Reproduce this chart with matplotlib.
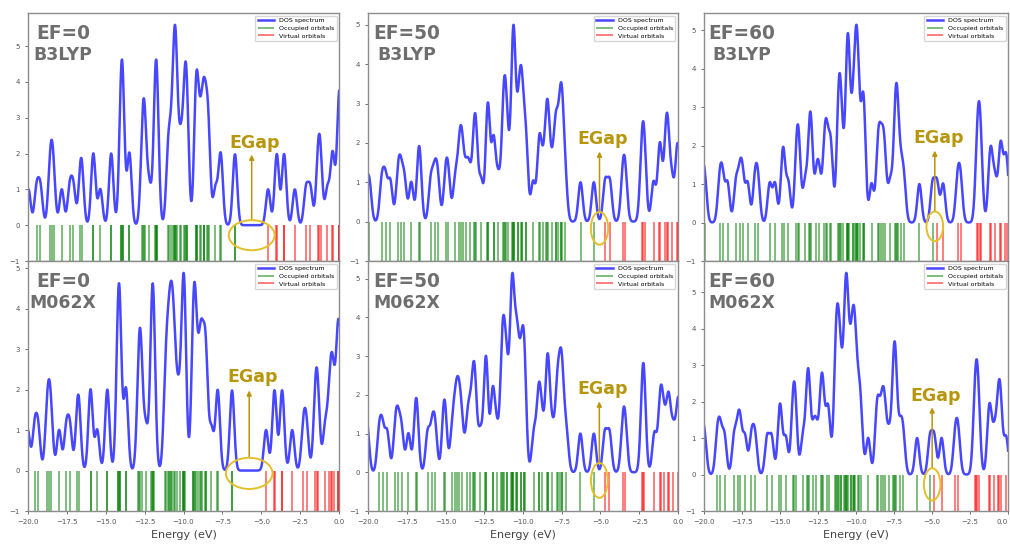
"""
DOS spectra of the EF=0/50/60 systems, B3LYP vs M062X, with EGap markers
"""
import numpy as np
import matplotlib
matplotlib.use("Agg")
import matplotlib.pyplot as plt
from matplotlib.patches import Ellipse
from matplotlib.ticker import MultipleLocator

# orbital energies (eV)
occ_ef0_b3lyp = [-19.97, -19.45, -19.2, -18.6, -18.48, -18.36, -17.83, -17.32, -17.08,
                 -16.63, -16.53, -15.8, -15.8, -15.35, -14.65, -14.65,
                 -14.04, -14.0, -13.96, -13.92, -13.88, -13.48, -13.48,
                 -12.66, -12.59, -12.53, -12.46, -12.2,
                 -11.84, -11.8, -11.76, -11.72, -11.68,
                 -11.0, -10.95, -10.8, -10.65, -10.6, -10.56, -10.52, -10.48, -10.44,
                 -10.2, -10.16, -9.95, -9.9, -9.85, -9.8, -9.75,
                 -9.22, -9.19, -9.16, -9.13, -8.93, -8.9, -8.71, -8.69, -8.67,
                 -8.48, -8.43, -8.38, -7.95, -7.63, -7.59, -6.71, -6.67]
virt_ef0_b3lyp = [-4.56, -4.02, -3.98, -3.55, -3.51, -2.84, -2.12, -1.84,
                  -1.37, -1.27, -1.17, -0.75, -0.43, -0.39, 0.0, 0.0, 0.0, 0.12]

occ_ef0_m062x = [-20.02, -19.58, -19.35, -18.785, -18.65, -18.515, -18.0, -17.54, -17.3,
                 -16.82, -16.72, -15.98, -15.98, -15.55, -14.9, -14.9,
                 -14.23, -14.19, -14.15, -14.11, -14.07, -13.7, -13.7,
                 -12.9, -12.83, -12.77, -12.7, -12.42,
                 -12.06, -12.02, -11.98, -11.94, -11.9,
                 -11.18, -11.12, -11.0, -10.92, -10.85, -10.78, -10.71, -10.64, -10.57,
                 -10.4, -10.25, -10.05, -10.015, -9.98, -9.945, -9.91,
                 -9.41, -9.36, -9.31, -9.26, -9.21, -9.05, -8.92, -8.86, -8.8,
                 -8.63, -8.58, -8.53, -8.2, -7.82, -7.78, -6.9, -6.86]
virt_ef0_m062x = [-4.69, -4.17, -4.13, -3.68, -3.64, -3.01, -2.29, -2.09,
                  -1.54, -1.44, -1.34, -0.9, -0.65, -0.5, -0.45, -0.3,
                  -0.08, -0.05, -0.02, 0.1]

occ_ef50_b3lyp = [-20.2, -19.92, -19.11, -18.87, -18.56, -18.07, -17.89, -17.65, -17.21,
                  -16.74, -16.66, -15.95, -15.7, -15.5, -15.0, -14.82, -14.38,
                  -14.13, -14.01, -13.89, -13.65, -13.45, -13.17, -13.09, -13.01,
                  -12.7, -12.3, -12.27, -12.24, -11.9, -11.9, -11.6,
                  -11.3, -11.235, -11.165, -11.095, -10.95,
                  -10.68, -10.65, -10.62, -10.59, -10.56, -10.3, -10.3,
                  -10.12, -10.09, -10.06, -9.83, -9.8, -9.35,
                  -8.97, -8.93, -8.7, -8.49, -8.43, -8.37, -8.15,
                  -7.9, -7.9, -7.72, -7.57, -7.52, -7.47, -7.28, -6.29, -5.43]
virt_ef50_b3lyp = [-4.7, -4.4, -3.56, -3.4, -2.35, -2.25, -2.15, -1.58,
                   -1.2, -1.14, -0.82, -0.7, -0.66, -0.4, -0.05, 0.0]

occ_ef50_m062x = [-20.25, -20.05, -19.28, -19.06, -18.76, -18.24, -18.06, -17.83, -17.39,
                  -16.93, -16.85, -16.15, -15.86, -15.66, -15.12, -15.02, -14.57,
                  -14.37, -14.24, -14.11, -13.95, -13.6, -13.43, -13.23, -13.15, -13.07,
                  -12.75, -12.42, -12.39, -12.36, -11.96, -11.96, -11.7,
                  -11.39, -11.33, -11.27, -11.21, -11.04, -11.04,
                  -10.77, -10.735, -10.7, -10.665, -10.63, -10.42, -10.4, -10.38,
                  -10.15, -10.15, -9.96, -9.93, -9.9, -9.3, -9.0, -8.96, -8.75,
                  -8.45, -8.41, -8.37, -8.11, -7.82, -7.76, -7.6,
                  -7.5, -7.46, -7.2, -6.3, -5.43]
virt_ef50_m062x = [-4.72, -4.42, -3.56, -3.4, -2.3, -2.24, -2.18, -1.52,
                   -1.17, -1.09, -0.9, -0.66, -0.56, -0.3, -0.02, 0.08]

occ_ef60_b3lyp = [-20.15, -19.95, -18.97, -18.77, -18.45, -17.9, -17.64, -17.46, -17.13,
                  -16.65, -16.45, -15.68, -15.33, -14.84, -14.76, -14.45,
                  -13.93, -13.83, -13.73, -13.35, -13.06, -13.0, -12.94,
                  -12.6, -12.42, -12.1, -12.0, -11.9, -11.7, -11.62,
                  -11.19, -11.13, -11.07, -11.01, -10.87,
                  -10.61, -10.575, -10.54, -10.505, -10.47, -10.22, -10.22,
                  -10.05, -10.005, -9.96, -9.915, -9.87, -9.72, -9.52, -9.5, -9.48,
                  -8.98, -8.58, -8.5, -8.35, -8.2, -8.1, -7.75,
                  -7.45, -7.38, -7.32, -7.25, -7.05, -6.85, -5.83, -4.96]
virt_ef60_b3lyp = [-4.67, -4.27, -3.32, -3.12, -2.045, -1.955, -1.865, -1.775,
                   -1.2, -1.1, -0.85, -0.52, -0.46, -0.2, -0.05]

occ_ef60_m062x = [-20.2, -19.97, -19.12, -18.92, -18.65, -18.02, -17.76, -17.6, -17.3,
                  -16.88, -16.64, -15.85, -15.55, -15.04, -14.96, -14.62,
                  -14.17, -14.07, -13.97, -13.5, -13.21, -13.15, -13.09,
                  -12.8, -12.6, -12.32, -12.24, -12.16, -11.9, -11.78,
                  -11.38, -11.32, -11.26, -11.2, -11.14, -11.0, -11.0,
                  -10.76, -10.72, -10.67, -10.63, -10.58, -10.54, -10.35, -10.35,
                  -10.2, -10.15, -10.1, -10.05, -9.9, -9.78, -9.66, -9.2,
                  -8.65, -8.55, -8.35, -8.2, -8.1, -7.83,
                  -7.55, -7.49, -7.43, -7.37, -7.1, -6.9, -5.98, -5.13]
virt_ef60_m062x = [-4.85, -4.37, -3.47, -3.27, -2.2, -2.11, -2.02, -1.93,
                   -1.27, -1.17, -0.9, -0.66, -0.56, -0.46, -0.12]

ef_labels = ["EF=0", "EF=50", "EF=60"]
methods = ["B3LYP", "M062X"]
occupied = [[occ_ef0_b3lyp, occ_ef50_b3lyp, occ_ef60_b3lyp],
            [occ_ef0_m062x, occ_ef50_m062x, occ_ef60_m062x]]
virtual = [[virt_ef0_b3lyp, virt_ef50_b3lyp, virt_ef60_b3lyp],
           [virt_ef0_m062x, virt_ef50_m062x, virt_ef60_m062x]]

# Gaussian broadening of the levels
SIGMA = 0.14
energy = np.linspace(-20.5, 0.5, 2101)


def dos(levels):
    lv = np.asarray(levels)[:, None]
    return np.exp(-(energy - lv) ** 2 / (2 * SIGMA ** 2)).sum(axis=0)


# layout (pixels of the 1010x548 canvas)
W, H = 1010, 548
col_px = [(28, 339), (368, 678), (704, 1008)]
row_px = [(13, 261), (261, 511)]
label_x = [0.113, 0.125, 0.123]
# EGap marker per panel: ellipse width, height, centre y, arrow top
gap_marks = [[(2.95, 0.84, -0.28, 1.97), (1.12, 0.83, -0.17, 1.78), (1.1, 0.77, -0.1, 1.87)],
             [(3.0, 0.77, -0.07, 1.98), (1.08, 0.9, -0.21, 1.83), (1.09, 0.88, -0.27, 1.84)]]

GOLD_TXT = "#b8960c"
GOLD_LINE = "#e3bf2a"
GREY_TXT = "#6e6e6e"

fig = plt.figure(figsize=(10.1, 5.48), dpi=100)
corner_ax = None

for r in range(2):
    y0, y1 = row_px[r]
    for c in range(3):
        x0, x1 = col_px[c]
        ax = fig.add_axes([x0 / W, 1 - y1 / H, (x1 - x0) / W, (y1 - y0) / H])
        occ = occupied[r][c]
        virt = virtual[r][c]

        ax.plot(energy, dos(occ + virt), color="blue", alpha=0.72, lw=1.8,
                label="DOS spectrum")
        ax.vlines(occ, -1, 0, colors="green", alpha=0.55, lw=1.3,
                  label="Occupied orbitals")
        ax.vlines(virt, -1, 0, colors="red", alpha=0.55, lw=1.3,
                  label="Virtual orbitals")

        ax.set_xlim(-20, 0)
        ax.set_ylim(bottom=-1)
        ax.xaxis.set_major_locator(MultipleLocator(2.5))
        ax.yaxis.set_major_locator(MultipleLocator(1))
        ax.tick_params(labelsize=5, colors="#555555", length=2.5, width=0.6)
        for sp in ax.spines.values():
            sp.set_color("#8c8c8c")
            sp.set_linewidth(1.0)
        if r == 0:
            ax.tick_params(labelbottom=False)
        else:
            ax.set_xlabel("Energy (eV)", fontsize=8, color="#444444", labelpad=3)
            if c == 2:
                corner_ax = ax

        ax.legend(loc="upper right", fontsize=4.5, handlelength=2.6,
                  labelspacing=0.35, borderaxespad=0.4, edgecolor="#cccccc")

        ax.text(label_x[c], 0.918, ef_labels[c], transform=ax.transAxes, ha="center",
                va="center", fontsize=13.4, fontweight="bold", color=GREY_TXT)
        ax.text(label_x[c], 0.831, methods[r], transform=ax.transAxes, ha="center",
                va="center", fontsize=12.4, fontweight="bold", color=GREY_TXT)

        # gap marker: midway between HOMO and LUMO
        ew, eh, ey, top = gap_marks[r][c]
        xm = (max(occ) + min(virt)) / 2
        ax.add_patch(Ellipse((xm, ey), ew, eh, fill=False, edgecolor=GOLD_LINE,
                             lw=1.4, zorder=5))
        ax.annotate("", xy=(xm, top), xytext=(xm, ey + eh / 2),
                    arrowprops=dict(arrowstyle="-|>", color=GOLD_TXT, lw=1.1,
                                    mutation_scale=7, shrinkA=0, shrinkB=0))
        ax.text(xm + 0.22, top + 0.32, "EGap", ha="center", va="center",
                fontsize=12.5, fontweight="bold", color=GOLD_TXT)

# keep the "0.0" label of the last panel inside the canvas
fig.canvas.draw()
for tick in corner_ax.xaxis.get_major_ticks():
    if abs(tick.get_loc()) < 1e-9:
        tick.label1.set_horizontalalignment("right")

fig.savefig("out.png", dpi=100)
